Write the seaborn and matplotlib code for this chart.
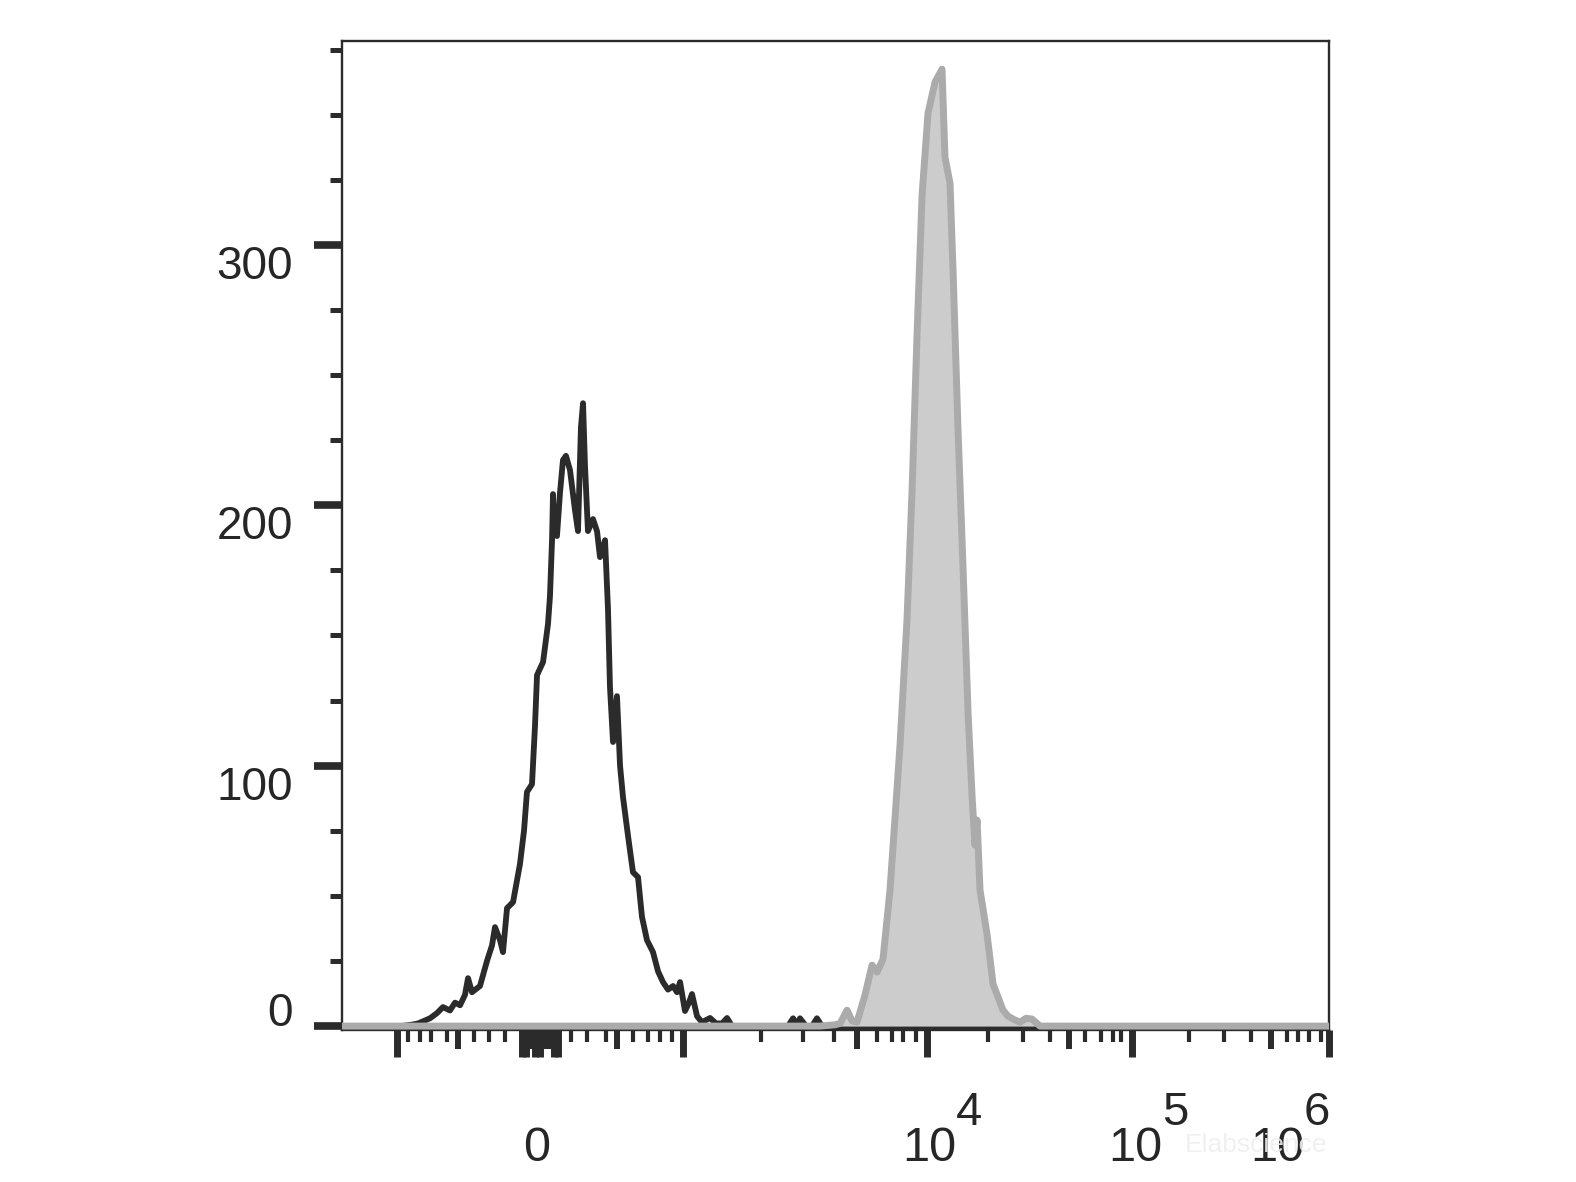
import numpy as np
import pandas as pd
import matplotlib
matplotlib.use("Agg")
import matplotlib.pyplot as plt
import matplotlib.transforms as mtransforms
import seaborn as sns

# ---------------- data (x = display channel 0-1000 of the biexponential axis) ----------------
black_ch = [0, 60.0, 70.0, 77.0, 89.2, 96.3, 102.3, 109.4, 114.5, 119.6, 124.6, 127.7, 131.7, 139.8,
            146.9, 152.0, 155.0, 160.1, 163.1, 167.2, 173.3, 180.3, 184.4, 187.4, 192.5, 195.5, 197.6,
            203.7, 208.7, 210.7, 212.8, 213.8, 214.8, 217.8, 220.9, 223.9, 226.9, 231.0, 236.1, 239.1,
            242.1, 244.2, 246.2, 249.2, 254.3, 258.4, 261.4, 266.5, 269.5, 271.5, 274.6, 278.6, 281.7,
            284.7, 289.8, 294.8, 299.9, 303.9, 309.0, 315.1, 320.2, 325.2, 330.3, 335.4, 339.4, 342.5,
            347.5, 351.5, 354.6, 359.7, 364.7, 372.9, 379.0, 385.0, 390.1, 395.1, 451.9, 457.0, 461.0,
            464.0, 470.1, 476.2, 481.2, 486.3, 1000]
black_count = [0, 0, 0.5, 1, 3, 5, 7.3, 6, 9, 8, 12, 18.4, 13, 15.4,
               25, 31, 38, 33, 28.4, 45.3, 47.6, 62.2, 75, 89.9, 92.9, 115, 134.8,
               139.8, 154.4, 165, 186.6, 204.3, 190, 188.2, 205, 217.4, 219, 213.5, 198, 190.1,
               230, 239.2, 215, 190.1, 194.7, 190, 180.1, 186.6, 160, 130.2, 109.1, 126.7, 100,
               87.9, 73, 59.1, 57.2, 42, 33.0, 28.4, 21, 16.9, 14, 15.4, 13, 16.9,
               5.8, 9, 12.3, 3.8, 1.5, 3.1, 1, 1, 3.1, 0, 0, 3, 0.5,
               3, 0, 0, 3, 0, 0]

gray_ch = [0, 484.3, 499.5, 504.6, 511.7, 516.7, 521.8, 529.9, 537.0, 542.1, 548.1, 555.2, 560.3,
           565.4, 572.5, 577.5, 582.6, 587.7, 593.7, 600.8, 607.9, 610.9, 616.0, 619.1, 624.1, 629.2,
           634.3, 638.3, 641.3, 643.4, 646.4, 653.5, 659.6, 664.7, 669.7, 674.8, 680.9, 687.0, 693.0,
           699.1, 707.2, 1000]
gray_count = [0, 0, 0.5, 1, 6.1, 2, 1.5, 12, 23.4, 20.7, 25.7, 52.2, 80,
              108.3, 156.7, 205.1, 265.7, 319.1, 350.6, 362.5, 367.5, 333.7, 323.7, 289.9, 229.3, 175.9,
              120.2, 88.7, 69.5, 79.1, 52.2, 35.3, 16.1, 11.1, 6.1, 3.8, 2.5, 1.5, 3,
              2.7, 0, 0]

x_tick_ch = [55.7, 66.9, 79.0, 90.2, 106.4, 117.5, 133.7, 148.9, 165.1, 182.4, 186.9, 191.5, 196.0,
             200.6, 205.2, 209.7, 214.3, 218.8, 232.0, 248.2, 267.5, 278.6, 294.8, 310.0, 322.2, 334.4,
             345.5, 424.5, 467.1, 498.5, 521.8, 542.1, 557.3, 568.4, 581.6, 592.7, 654.5, 690.0, 717.3,
             736.6, 752.8, 769.0, 781.2, 789.3, 800.4, 858.2, 893.6, 921.0, 941.3, 957.5, 968.6, 979.8,
             991.9, 1000.0]
x_tick_kind = ['L', 'S', 'S', 'S', 'S', 'M', 'S', 'S', 'S', 'L', 'L', 'M', 'L',
               'L', 'M', 'M', 'L', 'L', 'S', 'S', 'S', 'M', 'S', 'S', 'S', 'S',
               'L', 'S', 'S', 'S', 'M', 'S', 'S', 'S', 'S', 'L', 'S', 'S', 'S',
               'M', 'S', 'S', 'S', 'S', 'L', 'S', 'S', 'S', 'M', 'S', 'S', 'S',
               'S', 'L']
x_label_ch = [200.6, 592.7, 800.4, 1000.0]
x_label_base = ["0", "10", "10", "10"]
x_label_exp = ["", "4", "5", "6"]

y_major = [0, 100, 200, 300]
y_major_labels = ["0", "100", "200", "300"]
y_minor = [25, 50, 75, 125, 150, 175, 225, 250, 275, 325, 350, 375]

# ---------------- style ----------------
sns.set_theme(style="ticks")
plt.rcParams['font.family'] = ['Liberation Sans', 'DejaVu Sans']
NARROW = ['Liberation Sans Narrow', 'Liberation Sans', 'DejaVu Sans']
INK = '#2b2b2b'
TXT = '#262626'

fig = plt.figure(figsize=(15.76, 11.82), dpi=100)
ax = fig.add_axes([0.2170, 0.1286, 0.6263, 0.8367])

df_b = pd.DataFrame({'ch': black_ch, 'count': black_count})
df_g = pd.DataFrame({'ch': gray_ch, 'count': gray_count})

sns.lineplot(data=df_b, x='ch', y='count', ax=ax, color=INK, lw=4.2,
             estimator=None, sort=False, zorder=2)
ax.fill_between(df_g['ch'], 0, df_g['count'], color='#cccccc', lw=0, zorder=3)
sns.lineplot(data=df_g, x='ch', y='count', ax=ax, color='#ababab', lw=5.0,
             estimator=None, sort=False, zorder=4)

ax.set_xlim(0, 1000)
ax.set_ylim(-1.5, 378.3)
ax.set_xlabel('')
ax.set_ylabel('')
for s in ax.spines.values():
    s.set_visible(True)
    s.set_linewidth(1.7)
    s.set_color(INK)

# ---- y axis ----
ax.tick_params(axis='y', which='major', length=19.9, width=5.5, color=INK, pad=15.4,
               labelsize=33, labelcolor=TXT, direction='out', left=True, right=False)
ax.tick_params(axis='y', which='minor', length=8.6, width=3.6, color=INK,
               direction='out', left=True, right=False)
ax.set_yticks(y_major, y_major_labels)
ax.set_yticks(y_minor, minor=True)
for tick, val in zip(ax.yaxis.get_major_ticks(), y_major):
    tick.label1.set_va('baseline' if val == 0 else 'top')

# ---- x axis ----
ax.tick_params(axis='x', which='major', length=19.5, width=5.0, color=INK, pad=74.8,
               labelsize=35, labelcolor=TXT, direction='out', bottom=True, top=False)
ax.tick_params(axis='x', which='minor', bottom=False, top=False)
x_labels = []
for c in x_tick_ch:
    idx = [i for i, l in enumerate(x_label_ch) if abs(l - c) < 0.05]
    x_labels.append(x_label_base[idx[0]] if idx else "")
ax.set_xticks(x_tick_ch, x_labels)

kind_len = {'L': 19.5, 'M': 13.7, 'S': 8.6}
kind_w = {'L': 5.0, 'M': 4.3, 'S': 3.0}
label_dx_px = [-3, 2, 3, -52]
for tick, c, kind in zip(ax.xaxis.get_major_ticks(), x_tick_ch, x_tick_kind):
    tick.tick1line.set_markersize(kind_len[kind])
    tick.tick1line.set_markeredgewidth(kind_w[kind])
    tick.label1.set_fontfamily(NARROW)
    tick.label1.set_va('baseline')
    idx = [i for i, l in enumerate(x_label_ch) if abs(l - c) < 0.05]
    if idx:
        dx = label_dx_px[idx[0]]
        tick.label1.set_transform(tick.label1.get_transform() +
                                  mtransforms.ScaledTranslation(dx / 100, 0, fig.dpi_scale_trans))

for c, e, dx in zip(x_label_ch, x_label_exp, label_dx_px):
    if e:
        ax.annotate(e, xy=(c, 0), xycoords=ax.get_xaxis_transform(),
                    xytext=((dx + 27) * 0.72, -95 * 0.72), textcoords='offset points',
                    ha='left', va='baseline', fontsize=34, family=NARROW, color=TXT,
                    annotation_clip=False)

fig.text(1185 / 1576, 1 - 1152 / 1182, 'Elabscience', fontsize=19, color='#efefef',
         family=NARROW, ha='left', va='baseline', alpha=0.9, zorder=10)

fig.savefig('out.png', dpi=100)
